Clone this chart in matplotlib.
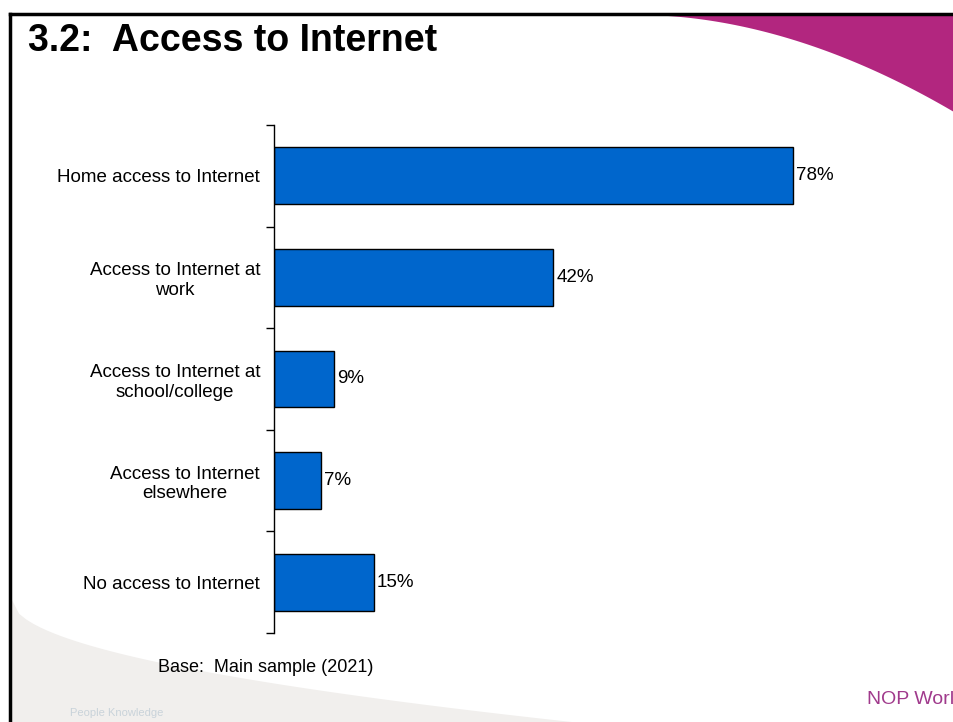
import matplotlib.pyplot as plt
import numpy as np
from matplotlib.patches import Polygon

plt.rcParams['font.family'] = ['Liberation Sans', 'DejaVu Sans']

# chart data
categories = ['Home access to Internet', 'Access to Internet at\nwork',
              'Access to Internet at\nschool/college', 'Access to Internet\nelsewhere',
              'No access to Internet']
values = [78, 42, 9, 7, 15]
value_labels = ['78%', '42%', '9%', '7%', '15%']

W, H = 954, 722
fig = plt.figure(figsize=(W / 100, H / 100), dpi=100)


def fpt(x, y):
    # pixel position (from top left) -> figure fraction
    return (x / W, 1 - y / H)


# slide decorations: frame lines and magenta swoosh top right
fig.add_artist(plt.Line2D([10 / W, 1], [1 - 14 / H, 1 - 14 / H], color='black', lw=2.5,
                          transform=fig.transFigure))
fig.add_artist(plt.Line2D([10 / W, 10 / W], [0, 1 - 14 / H], color='black', lw=2.5,
                          transform=fig.transFigure))
t = np.linspace(0, 1, 80)
sx = 640 + 314 * t
sy = 15 + 97 * t ** 1.9
pts = [fpt(x, y) for x, y in zip(sx, sy)] + [fpt(W, 15)]
fig.add_artist(Polygon(pts, closed=True, facecolor='#B2267F', edgecolor='none',
                       transform=fig.transFigure))

# light grey swoosh bottom left
gx = 12 + 560 * t
gy = 600 + 122 * t ** 0.5
gpts = [fpt(x, y) for x, y in zip(gx, gy)] + [fpt(12, H)]
fig.add_artist(Polygon(gpts, closed=True, facecolor='#F1EFED', edgecolor='none',
                       transform=fig.transFigure, zorder=0))

fig.text(*fpt(28, 51), '3.2:  Access to Internet', fontsize=27, fontweight='bold',
         ha='left', va='baseline')

ax = fig.add_axes([274 / W, 1 - 633 / H, 665 / W, 508 / H])
ax.patch.set_alpha(0)
y = np.arange(len(categories))
ax.barh(y, values, height=0.56, color='#0066CC', edgecolor='black', linewidth=1)
for yi, v, lab in zip(y, values, value_labels):
    ax.text(v + 0.5, yi, lab, fontsize=13.5, ha='left', va='center')

ax.set_xlim(0, 100)
ax.set_ylim(len(categories) - 0.5, -0.5)
ax.set_yticks(y)
ax.set_yticklabels(categories, fontsize=13.5, ha='right', multialignment='center')
ax.tick_params(axis='y', length=0, pad=10)
ax.set_yticks(np.arange(-0.5, len(categories)), minor=True)
ax.tick_params(axis='y', which='minor', length=6, width=1, direction='out')
ax.set_xticks([])
for s in ['top', 'right', 'bottom']:
    ax.spines[s].set_visible(False)
ax.spines['left'].set_linewidth(1)

fig.text(*fpt(158, 668), 'Base:  Main sample (2021)', fontsize=13, ha='left', va='center')

# logo placeholders
fig.text(*fpt(70, 716), 'People Knowledge', fontsize=8, color='#C9D3DA', ha='left',
         va='baseline')
fig.text(*fpt(W, 704), 'NOP Worl', fontsize=14, color='#A03A8C', ha='right',
         va='baseline')

fig.savefig('out.png', dpi=100)
